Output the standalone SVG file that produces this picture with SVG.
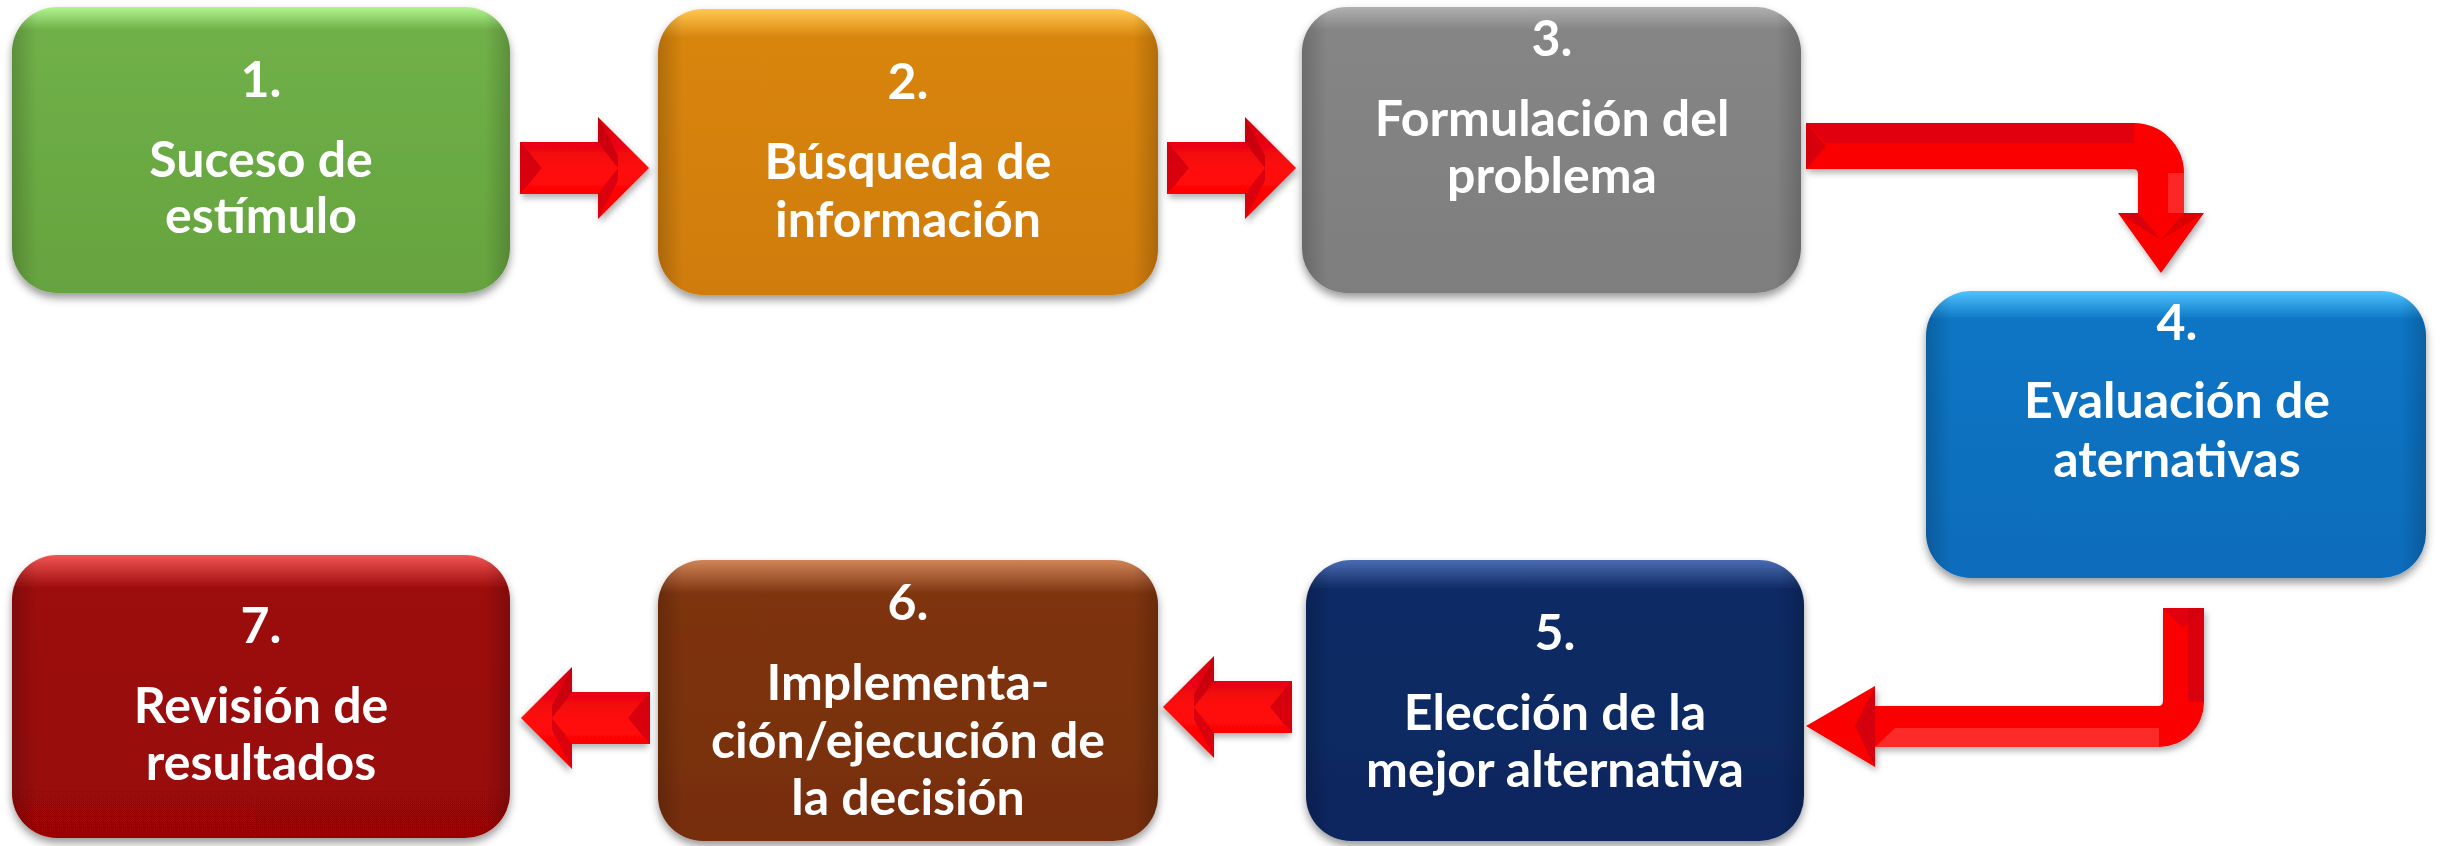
<svg xmlns="http://www.w3.org/2000/svg" xmlns:xlink="http://www.w3.org/1999/xlink" width="2440" height="846" viewBox="0 0 2440 846">
<style>
.t{font-family:Lato,"Open Sans","Liberation Sans",sans-serif;font-weight:700;font-size:50px;fill:#ffffff;text-anchor:middle}
.box{filter:url(#sh)}
.edge{fill:url(#edge)}
.arrow{filter:url(#ash)}
</style>
<defs>
<filter id="sh" x="-10%" y="-10%" width="120%" height="125%">
<feDropShadow dx="0" dy="5" stdDeviation="4" flood-color="#000" flood-opacity="0.4"/>
</filter>
<filter id="ash" x="-10%" y="-10%" width="125%" height="130%">
<feDropShadow dx="2" dy="4" stdDeviation="3" flood-color="#000" flood-opacity="0.3"/>
</filter>
<linearGradient id="edge" x1="0" y1="0" x2="1" y2="0">
<stop offset="0" stop-color="#000" stop-opacity="0.18"/>
<stop offset="0.05" stop-color="#000" stop-opacity="0"/>
<stop offset="0.95" stop-color="#000" stop-opacity="0"/>
<stop offset="1" stop-color="#000" stop-opacity="0.18"/>
</linearGradient>
<linearGradient id="gGreen" x1="0" y1="0" x2="0" y2="1">
<stop offset="0" stop-color="#B2F590"/><stop offset="0.08" stop-color="#70B048"/><stop offset="1" stop-color="#66A33F"/>
</linearGradient>
<linearGradient id="gOrange" x1="0" y1="0" x2="0" y2="1">
<stop offset="0" stop-color="#FFC850"/><stop offset="0.1" stop-color="#D8850E"/><stop offset="1" stop-color="#D07C08"/>
</linearGradient>
<linearGradient id="gGray" x1="0" y1="0" x2="0" y2="1">
<stop offset="0" stop-color="#B0B0B0"/><stop offset="0.08" stop-color="#858585"/><stop offset="1" stop-color="#7E7E7E"/>
</linearGradient>
<linearGradient id="gBlue" x1="0" y1="0" x2="0" y2="1">
<stop offset="0" stop-color="#4FC3FF"/><stop offset="0.1" stop-color="#0B75C4"/><stop offset="1" stop-color="#0A6CBB"/>
</linearGradient>
<linearGradient id="gNavy" x1="0" y1="0" x2="0" y2="1">
<stop offset="0" stop-color="#4A6CB2"/><stop offset="0.1" stop-color="#112C66"/><stop offset="1" stop-color="#0D275F"/>
</linearGradient>
<linearGradient id="gBrown" x1="0" y1="0" x2="0" y2="1">
<stop offset="0" stop-color="#D08458"/><stop offset="0.12" stop-color="#7E340F"/><stop offset="1" stop-color="#772E0A"/>
</linearGradient>
<linearGradient id="gRed" x1="0" y1="0" x2="0" y2="1">
<stop offset="0" stop-color="#F25454"/><stop offset="0.12" stop-color="#9C0B0B"/><stop offset="1" stop-color="#980606"/>
</linearGradient>
<linearGradient id="gArrow" x1="0" y1="0" x2="0" y2="1">
<stop offset="0" stop-color="#D60010"/><stop offset="0.3" stop-color="#EC0612"/><stop offset="0.5" stop-color="#FF0A0A"/><stop offset="1" stop-color="#FF0000"/>
</linearGradient>
<g id="arrowR">
<path d="M0,-26 L78,-26 L78,-51 L129,0 L78,51 L78,26 L0,26 Z" fill="url(#gArrow)"/>
<path d="M0,-26 L22,0 L0,26 Z" fill="#C80010" opacity="0.7"/>
<path d="M78,-51 L98,-12 L98,0 L78,-26 Z" fill="#B00010" opacity="0.55"/>
<path d="M78,51 L98,12 L98,0 L78,26 Z" fill="#B00010" opacity="0.45"/>
</g>
</defs>

<g id="connectors">
<use xlink:href="#arrowR" class="arrow" transform="translate(520,168)"/>
<use xlink:href="#arrowR" class="arrow" transform="translate(1167,168)"/>
<use xlink:href="#arrowR" class="arrow" transform="translate(1292,707) scale(-1,1)"/>
<use xlink:href="#arrowR" class="arrow" transform="translate(650,718) scale(-1,1)"/>
<g id="arrow3to4" class="arrow">
<path d="M1806,123 L2134,123 A50,50 0 0 1 2184,173 L2184,213 L2204,213 L2161,273 L2118,213 L2138,213 L2138,174 Q2138,169 2133,169 L1806,169 Z" fill="#FA0000"/>
<path d="M1806,123 L2134,123 L2134,143 L1826,143 Z" fill="#D00010" opacity="0.6"/>
<path d="M1806,123 L1826,146 L1806,169 Z" fill="#C00010" opacity="0.6"/>
<path d="M2168,173 L2184,173 L2184,213 L2168,213 Z" fill="#FF4A4A" opacity="0.5"/>
<path d="M2118,213 L2138,213 L2161,240 Z" fill="#B00010" opacity="0.45"/>
<path d="M2204,213 L2184,213 L2161,240 Z" fill="#B00010" opacity="0.4"/>
</g>
<g id="arrow4to5" class="arrow">
<path d="M2163,608 L2204,608 L2204,702 A45,45 0 0 1 2159,747 L1875,747 L1875,767 L1806,726 L1875,686 L1875,706 L2158,706 Q2163,706 2163,701 Z" fill="#FA0000"/>
<path d="M2188,608 L2204,608 L2204,702 L2188,702 Z" fill="#C00010" opacity="0.55"/>
<path d="M2163,608 L2183,628 L2204,608 Z" fill="#D00010" opacity="0.6"/>
<path d="M1895,728 L2159,728 L2159,747 L1875,747 Z" fill="#FF4A4A" opacity="0.55"/>
<path d="M1875,686 L1855,726 L1875,726 Z" fill="#B00010" opacity="0.5"/>
<path d="M1875,767 L1855,726 L1875,726 Z" fill="#B00010" opacity="0.5"/>
</g>
</g>

<g id="node1">
<rect class="box" x="12" y="7" width="498" height="286" rx="45" fill="url(#gGreen)"/>
<rect class="edge" x="12" y="7" width="498" height="286" rx="45"/>
<text class="t" x="261" y="97">1.</text>
<text class="t" x="261" y="177">Suceso de</text>
<text class="t" x="261" y="233">estímulo</text>
</g>
<g id="node2">
<rect class="box" x="658" y="9" width="500" height="286" rx="45" fill="url(#gOrange)"/>
<rect class="edge" x="658" y="9" width="500" height="286" rx="45"/>
<text class="t" x="908" y="99">2.</text>
<text class="t" x="908" y="179">Búsqueda de</text>
<text class="t" x="908" y="237">información</text>
</g>
<g id="node3">
<rect class="box" x="1302" y="7" width="499" height="286" rx="45" fill="url(#gGray)"/>
<rect class="edge" x="1302" y="7" width="499" height="286" rx="45"/>
<text class="t" x="1552" y="56">3.</text>
<text class="t" x="1552" y="136">Formulación del</text>
<text class="t" x="1552" y="193">problema</text>
</g>
<g id="node4">
<rect class="box" x="1926" y="291" width="500" height="287" rx="45" fill="url(#gBlue)"/>
<rect class="edge" x="1926" y="291" width="500" height="287" rx="45"/>
<text class="t" x="2177" y="340">4.</text>
<text class="t" x="2177" y="418">Evaluación de</text>
<text class="t" x="2177" y="477">aternativas</text>
</g>
<g id="node5">
<rect class="box" x="1306" y="560" width="498" height="281" rx="45" fill="url(#gNavy)"/>
<rect class="edge" x="1306" y="560" width="498" height="281" rx="45"/>
<text class="t" x="1555" y="650">5.</text>
<text class="t" x="1555" y="730">Elección de la</text>
<text class="t" x="1555" y="787">mejor alternativa</text>
</g>
<g id="node6">
<rect class="box" x="658" y="560" width="500" height="281" rx="45" fill="url(#gBrown)"/>
<rect class="edge" x="658" y="560" width="500" height="281" rx="45"/>
<text class="t" x="908" y="620">6.</text>
<text class="t" x="908" y="700">Implementa-</text>
<text class="t" x="908" y="758">ción/ejecución de</text>
<text class="t" x="908" y="815">la decisión</text>
</g>
<g id="node7">
<rect class="box" x="12" y="555" width="498" height="283" rx="45" fill="url(#gRed)"/>
<rect class="edge" x="12" y="555" width="498" height="283" rx="45"/>
<text class="t" x="261" y="643">7.</text>
<text class="t" x="261" y="723">Revisión de</text>
<text class="t" x="261" y="780">resultados</text>
</g>
</svg>
